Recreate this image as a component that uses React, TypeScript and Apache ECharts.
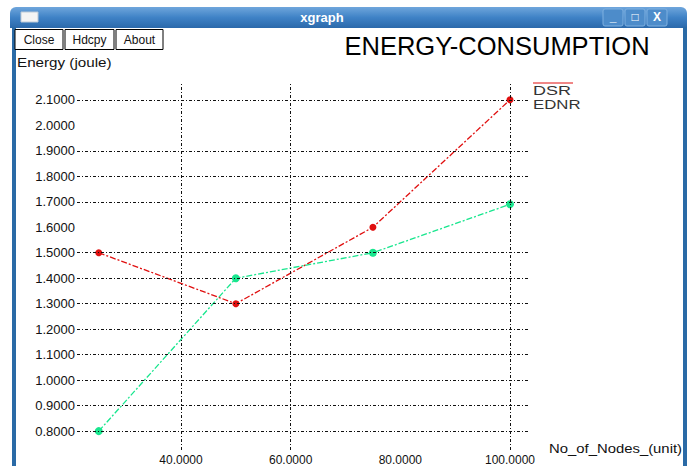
import React, { useEffect, useRef } from "react";
import * as echarts from "echarts";

const nodes = [25, 50, 75, 100];
const dsr = [1.5, 1.3, 1.6, 2.1];
const ednr = [0.8, 1.4, 1.5, 1.69];
const xTickValues = [40, 60, 80, 100];
const yTickValues = [0.8, 0.9, 1.0, 1.1, 1.2, 1.3, 1.4, 1.5, 1.6, 1.7, 1.8, 1.9, 2.0, 2.1];
const xGridValues = [40, 60, 100];
const yGridValues = [0.8, 0.9, 1.0, 1.1, 1.2, 1.3, 1.4, 1.5, 1.7, 1.8, 1.9, 2.1];
const seriesNames = ["DSR", "EDNR"];

const FONT = "'Liberation Sans', 'DejaVu Sans', sans-serif";
const RED = "#e00f0f";
const GREEN = "#18e68e";
const BORDER = "#2a6aa6";

export default function App() {
  const ref = useRef<HTMLDivElement>(null);
  useEffect(() => {
    if (!ref.current) return;
    const chart = echarts.init(ref.current, undefined, { renderer: "svg" });
    const gridStyle = { color: "#111", width: 1, type: [3, 2, 1, 2] as any };
    const buttons = [
      { label: "Close", x: 15, w: 48 },
      { label: "Hdcpy", x: 65, w: 49 },
      { label: "About", x: 116, w: 47 },
    ];
    const winBtns = [
      { x: 603, glyph: "_" },
      { x: 625, glyph: "\u25A1" },
      { x: 647, glyph: "X" },
    ];
    const scaledText = (
      text: string,
      x: number,
      y: number,
      size: number,
      sx: number,
      fill: string
    ) => ({
      type: "text",
      x,
      y,
      scaleX: sx,
      style: {
        text,
        fill,
        font: `${size}px ${FONT}`,
        align: "left",
        verticalAlign: "middle",
      },
    });
    const graphic: any[] = [
      {
        type: "rect",
        shape: { x: 10, y: 7, width: 677, height: 21, r: [6, 6, 0, 0] },
        style: {
          fill: new echarts.graphic.LinearGradient(0, 0, 0, 1, [
            { offset: 0, color: "#6fa6dc" },
            { offset: 0.5, color: "#3f82c6" },
            { offset: 1, color: "#2b69ab" },
          ]),
        },
      },
      { type: "rect", shape: { x: 12, y: 27, width: 4, height: 439 }, style: { fill: BORDER } },
      { type: "rect", shape: { x: 683, y: 27, width: 4, height: 439 }, style: { fill: BORDER } },
      {
        type: "rect",
        shape: { x: 21, y: 12, width: 17, height: 10 },
        style: { fill: "#f4f4f4", stroke: "#bcc9d6", lineWidth: 1 },
      },
      {
        type: "text",
        x: 322,
        y: 17,
        style: {
          text: "xgraph",
          fill: "#ffffff",
          font: `bold 13px ${FONT}`,
          align: "center",
          verticalAlign: "middle",
        },
      },
      ...winBtns.flatMap((b) => [
        {
          type: "rect",
          shape: { x: b.x, y: 9, width: 20, height: 17, r: 2 },
          style: { fill: "#4d8cca", stroke: "#7fb0e0", lineWidth: 1 },
        },
        {
          type: "text",
          x: b.x + 10,
          y: 17,
          style: {
            text: b.glyph,
            fill: "#ffffff",
            font: `bold 12px ${FONT}`,
            align: "center",
            verticalAlign: "middle",
          },
        },
      ]),
      ...buttons.flatMap((b) => [
        {
          type: "rect",
          shape: { x: b.x, y: 29.5, width: b.w, height: 20 },
          style: { fill: "#ffffff", stroke: "#000", lineWidth: 1 },
        },
        {
          type: "text",
          x: b.x + b.w / 2,
          y: 40,
          style: {
            text: b.label,
            fill: "#111",
            font: `12px ${FONT}`,
            align: "center",
            verticalAlign: "middle",
          },
        },
      ]),
      scaledText("Energy (joule)", 17, 62, 13, 1.17, "#111"),
      {
        type: "text",
        x: 497,
        y: 46,
        style: {
          text: "ENERGY-CONSUMPTION",
          fill: "#000",
          font: `25.5px ${FONT}`,
          align: "center",
          verticalAlign: "middle",
        },
      },
      scaledText("No_of_Nodes_(unit)", 549, 449, 12, 1.24, "#111"),
      {
        type: "line",
        shape: { x1: 533, y1: 83, x2: 573, y2: 83 },
        style: { stroke: RED, lineWidth: 1 },
      },
      scaledText(seriesNames[0], 533, 91, 12, 1.5, "#333"),
      scaledText(seriesNames[1], 533, 105, 12, 1.4, "#333"),
    ];

    chart.setOption({
      animation: false,
      backgroundColor: "#ffffff",
      textStyle: { fontFamily: FONT },
      grid: { left: 77, top: 82, width: 453, height: 370, containLabel: false },
      xAxis: {
        type: "value",
        min: 21.03,
        max: 103.65,
        axisLine: { show: false },
        axisTick: { show: false },
        splitLine: { show: false },
        axisLabel: {
          customValues: xTickValues,
          formatter: (v: number) => v.toFixed(4),
          margin: 4,
          fontSize: 12,
          color: "#111",
          fontFamily: FONT,
        },
      },
      yAxis: {
        type: "value",
        min: 0.726,
        max: 2.17,
        axisLine: { show: false },
        axisTick: { show: false },
        splitLine: { show: false },
        axisLabel: {
          customValues: yTickValues,
          formatter: (v: number) => v.toFixed(4),
          margin: 2,
          fontSize: 13,
          color: "#111",
          fontFamily: FONT,
        },
      },
      series: [
        {
          type: "line",
          name: "grid",
          data: [],
          z: 1,
          silent: true,
          markLine: {
            silent: true,
            symbol: ["none", "none"],
            label: { show: false },
            lineStyle: gridStyle,
            emphasis: { disabled: true },
            data: [
              ...xGridValues.map((v) => ({ xAxis: v })),
              ...yGridValues.map((v) => ({ yAxis: v })),
            ],
          },
        },
        {
          type: "line",
          name: seriesNames[0],
          z: 3,
          data: nodes.map((x, i) => [x, dsr[i]]),
          color: RED,
          symbol: "circle",
          symbolSize: 7,
          lineStyle: { color: RED, width: 1.3, type: [6, 2, 2, 2] },
          itemStyle: { color: RED },
        },
        {
          type: "line",
          name: seriesNames[1],
          z: 3,
          data: nodes.map((x, i) => [x, ednr[i]]),
          color: GREEN,
          symbol: "circle",
          symbolSize: 8,
          lineStyle: { color: GREEN, width: 1.3, type: [6, 2, 2, 2] },
          itemStyle: { color: GREEN },
        },
      ],
      graphic,
    });
    return () => chart.dispose();
  }, []);
  return (
    <div
      ref={ref}
      style={{ position: "fixed", left: 0, top: 0, width: 689, height: 466, background: "#fff" }}
    />
  );
}
